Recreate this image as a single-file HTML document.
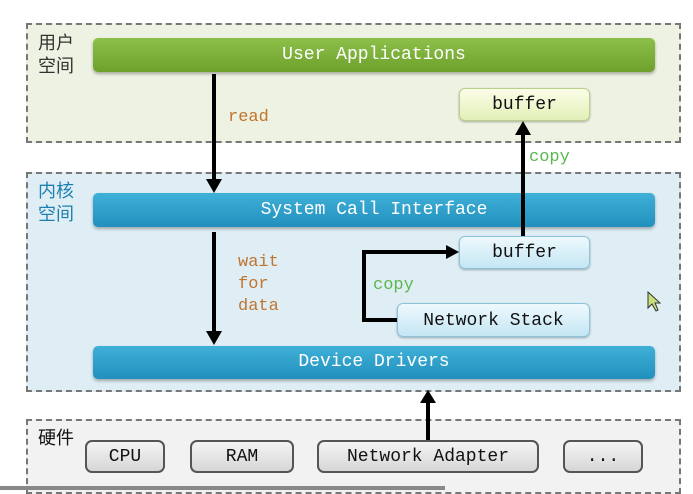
<!DOCTYPE html>
<html><head><meta charset="utf-8"><style>
body{margin:0;width:693px;height:490px;background:#fff;position:relative;overflow:hidden;font-family:"Liberation Mono","Noto Sans CJK SC",monospace}
div{position:absolute;box-sizing:border-box}
.zone{border:2px dashed #777}
.bar{border-radius:5px;color:#fff;font-size:18px;text-align:center;box-shadow:0 2px 3px rgba(0,0,0,.3)}
.g{background:linear-gradient(#8dc04a,#6ea12c)}
.b{background:linear-gradient(#3fb0d8,#2290bd)}
.box{border-radius:6px;font-size:18px;text-align:center;color:#111;box-shadow:0 1px 2px rgba(0,0,0,.3)}
.hw{background:linear-gradient(#f4f4f4,#d6d6d6);border:2px solid #555;border-radius:7px;font-size:18px;text-align:center;color:#111}
.cj{font-family:"Liberation Sans","Noto Sans CJK SC",sans-serif;font-size:18px;line-height:23px}
.lbl{font-size:17px;line-height:22px}
</style></head><body>
<div class="zone" style="left:26px;top:23px;width:655px;height:120px;background:#eef2e2"></div>
<div class="zone" style="left:26px;top:172px;width:655px;height:220px;background:#dfeef5"></div>
<div class="zone" style="left:26px;top:419px;width:655px;height:75px;background:#f2f2f2"></div>
<div style="left:0;top:486px;width:445px;height:4px;background:#888"></div>

<div class="cj" style="left:38px;top:32px;color:#333">用户<br>空间</div>
<div class="cj" style="left:38px;top:180px;color:#1d7fb0">内核<br>空间</div>
<div class="cj" style="left:38px;top:427px;color:#111">硬件</div>

<div class="bar g" style="left:93px;top:38px;width:562px;height:34px;line-height:34px">User Applications</div>
<div class="box" style="left:459px;top:88px;width:131px;height:33px;line-height:33px;background:linear-gradient(#fbfde8,#e2f0b8);border:1px solid #b9cf8a">buffer</div>
<div class="bar b" style="left:93px;top:193px;width:562px;height:34px;line-height:34px">System Call Interface</div>
<div class="box" style="left:459px;top:236px;width:131px;height:33px;line-height:33px;background:linear-gradient(#eef9fd,#c4e6f4);border:1px solid #8cc3da">buffer</div>
<div class="box" style="left:397px;top:303px;width:193px;height:34px;line-height:34px;background:linear-gradient(#eef9fd,#c4e6f4);border:1px solid #8cc3da">Network Stack</div>
<div class="bar b" style="left:93px;top:346px;width:562px;height:33px;line-height:33px">Device Drivers</div>

<div class="hw" style="left:85px;top:440px;width:80px;height:33px;line-height:30px">CPU</div>
<div class="hw" style="left:190px;top:440px;width:104px;height:33px;line-height:30px">RAM</div>
<div class="hw" style="left:317px;top:440px;width:222px;height:33px;line-height:30px">Network Adapter</div>
<div class="hw" style="left:563px;top:440px;width:80px;height:33px;line-height:30px">...</div>

<div class="lbl" style="left:228px;top:107px;color:#c0752f">read</div>
<div class="lbl" style="left:529px;top:147px;color:#5bb74f">copy</div>
<div class="lbl" style="left:373px;top:275px;color:#5bb74f">copy</div>
<div class="lbl" style="left:238px;top:252px;color:#c0752f">wait<br>for<br>data</div>

<svg width="693" height="490" style="position:absolute;left:0;top:0">
<g stroke="#000" stroke-width="4" fill="none">
<line x1="214" y1="74" x2="214" y2="180"/>
<line x1="214" y1="232" x2="214" y2="332"/>
<line x1="523" y1="236" x2="523" y2="134"/>
<line x1="428" y1="440" x2="428" y2="402"/>
<polyline points="397,320 364,320 364,252 448,252"/>
</g>
<g fill="#000">
<polygon points="206,179 222,179 214,193"/>
<polygon points="206,331 222,331 214,345"/>
<polygon points="515,135 531,135 523,121"/>
<polygon points="420,403 436,403 428,390"/>
<polygon points="446,245 446,259 459,252"/>
</g>
<polygon points="648,292 648,308 652,304 656,311 658,310 655,303 660,303" fill="#c8e07a" stroke="#333" stroke-width="1"/>
</svg>
</body></html>
